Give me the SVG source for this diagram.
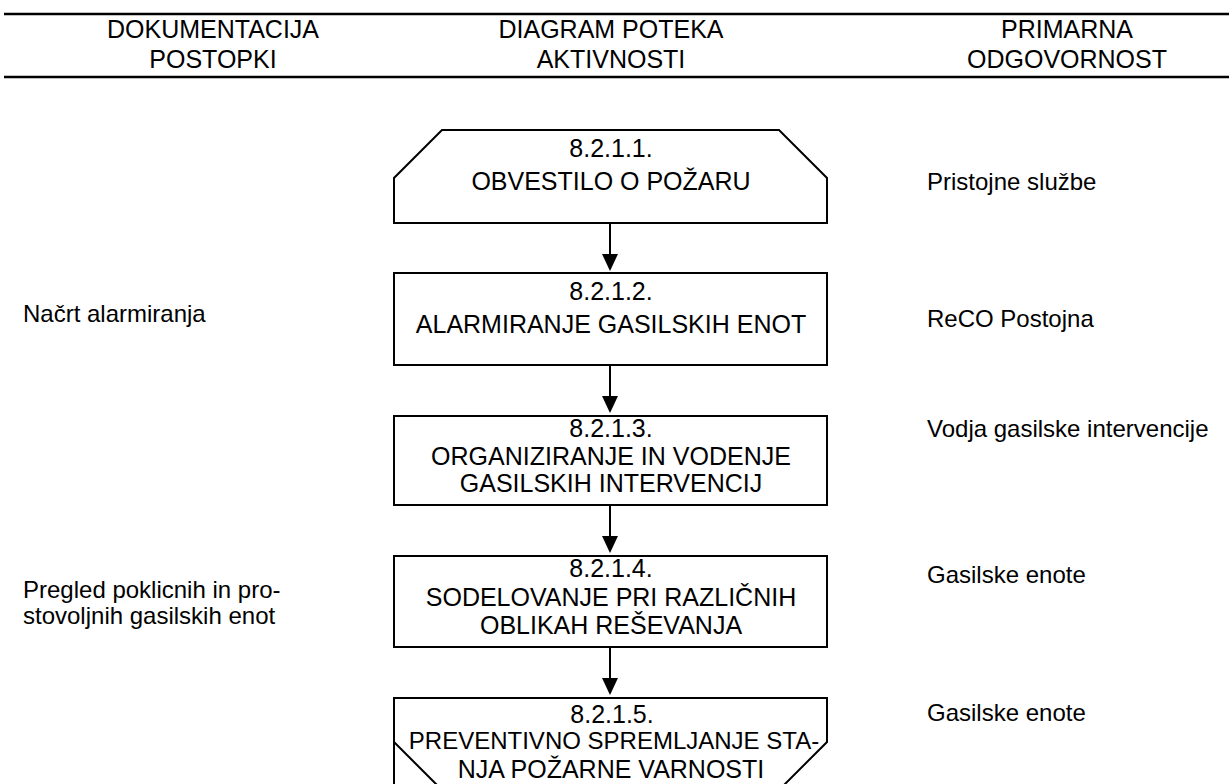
<svg xmlns="http://www.w3.org/2000/svg" width="1229" height="784" viewBox="0 0 1229 784">
<style>
text{font-family:"Liberation Sans",Arial,sans-serif;fill:#000}
.h{font-size:25px;text-anchor:middle}
.n{font-size:25px;text-anchor:middle}
.s{font-size:24px}
.shape{fill:#fff;stroke:#000;stroke-width:2}
.rule{stroke:#000;stroke-width:2.5}
.conn line{stroke:#000;stroke-width:2}
</style>
<rect width="1229" height="784" fill="#fff"/>
<g id="header">
<line class="rule" x1="4" y1="14" x2="1229" y2="14"/>
<line class="rule" x1="4" y1="77" x2="1229" y2="77"/>
<text class="h" x="213" y="38">DOKUMENTACIJA</text>
<text class="h" x="213" y="68">POSTOPKI</text>
<text class="h" x="611" y="38">DIAGRAM POTEKA</text>
<text class="h" x="611" y="68">AKTIVNOSTI</text>
<text class="h" x="1067" y="38">PRIMARNA</text>
<text class="h" x="1067" y="68">ODGOVORNOST</text>
</g>
<g id="connectors" class="conn">
<line x1="610" y1="224" x2="610" y2="256"/>
<path d="M602,254 L618,254 L610,271 Z"/>
<line x1="610" y1="366" x2="610" y2="398"/>
<path d="M602,396 L618,396 L610,413 Z"/>
<line x1="610" y1="506" x2="610" y2="538"/>
<path d="M602,536 L618,536 L610,553 Z"/>
<line x1="610" y1="648" x2="610" y2="680"/>
<path d="M602,678 L618,678 L610,695 Z"/>
</g>
<g id="node1">
<path class="shape" d="M442,130 L779,130 L827,178 L827,223 L394,223 L394,178 Z"/>
<text class="n" x="611" y="157">8.2.1.1.</text>
<text class="n" x="611" y="190">OBVESTILO O POŽARU</text>
</g>
<g id="node2">
<rect class="shape" x="394" y="273" width="433" height="92"/>
<text class="n" x="611" y="300">8.2.1.2.</text>
<text class="n" x="611" y="333">ALARMIRANJE GASILSKIH ENOT</text>
</g>
<g id="node3">
<rect class="shape" x="394" y="416" width="433" height="89"/>
<text class="n" x="611" y="437">8.2.1.3.</text>
<text class="n" x="611" y="465">ORGANIZIRANJE IN VODENJE</text>
<text class="n" x="611" y="492">GASILSKIH INTERVENCIJ</text>
</g>
<g id="node4">
<rect class="shape" x="394" y="556" width="433" height="91"/>
<text class="n" x="611" y="577">8.2.1.4.</text>
<text class="n" x="611" y="606">SODELOVANJE PRI RAZLIČNIH</text>
<text class="n" x="611" y="634">OBLIKAH REŠEVANJA</text>
</g>
<g id="node5">
<path class="shape" d="M394,790 L394,698 L827,698 L827,742 L779,790"/>
<path class="shape" d="M394,742 L442,790" fill="none"/>
<text class="n" x="612" y="723">8.2.1.5.</text>
<text class="n" x="614" y="749" style="font-size:24px">PREVENTIVNO SPREMLJANJE STA-</text>
<text class="n" x="611" y="778">NJA POŽARNE VARNOSTI</text>
</g>
<g id="left-docs">
<text class="s" x="23" y="322">Načrt alarmiranja</text>
<text class="s" x="23" y="598">Pregled poklicnih in pro-</text>
<text class="s" x="23" y="624">stovoljnih gasilskih enot</text>
</g>
<g id="right-resp">
<text class="s" x="927" y="190">Pristojne službe</text>
<text class="s" x="927" y="327">ReCO Postojna</text>
<text class="s" x="927" y="437">Vodja gasilske intervencije</text>
<text class="s" x="927" y="583">Gasilske enote</text>
<text class="s" x="927" y="721">Gasilske enote</text>
</g>
</svg>
